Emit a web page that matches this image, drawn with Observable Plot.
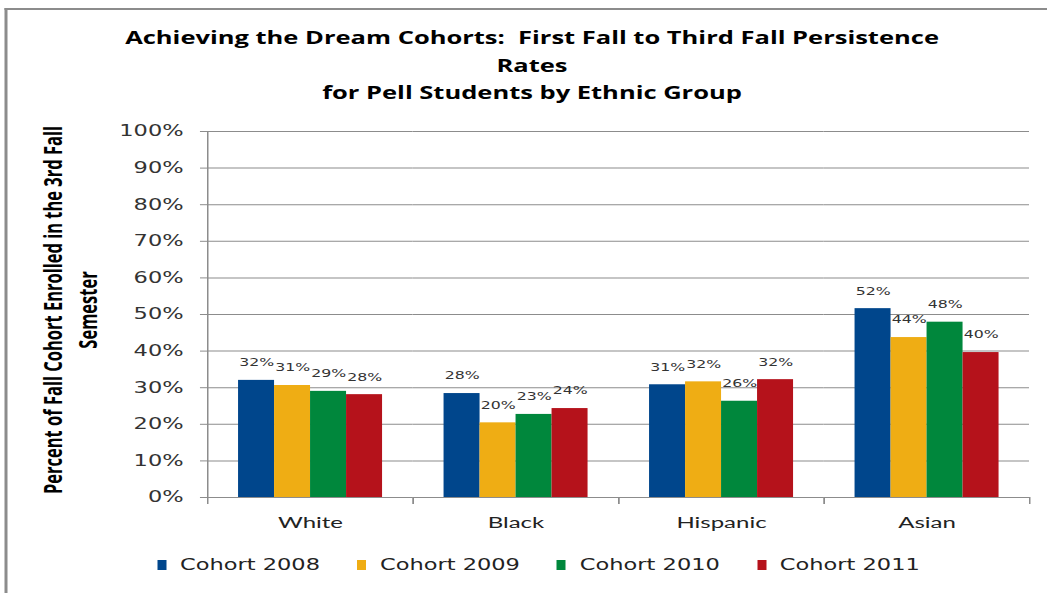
<!DOCTYPE html>
<html><head><meta charset="utf-8">
<script src="https://cdn.jsdelivr.net/npm/d3@7"></script>
<script src="https://cdn.jsdelivr.net/npm/@observablehq/plot@0.6"></script>
<style>
html,body{margin:0;padding:0;background:#fff;overflow:hidden;width:1047px;height:593px;}
#wrap{position:absolute;left:0;top:0;width:698px;height:593px;transform:scaleX(1.5);transform-origin:0 0;}
#border{position:absolute;left:3.3px;top:8px;right:0;bottom:-10px;border-top:2px solid #8c8c8c;border-left:2px solid #8c8c8c;}
#title{position:absolute;top:24px;left:0;width:709.4px;text-align:center;font-family:"Open Sans";font-weight:bold;font-size:17px;line-height:27.5px;color:#000;}
#chart{position:absolute;top:112px;left:0;}
#legend{position:absolute;top:555px;left:104.7px;height:20px;display:flex;align-items:center;font-family:"DejaVu Sans";font-size:15px;color:#222;}
.item{width:133.3px;display:flex;align-items:center;white-space:nowrap;}
.sw{width:6px;height:10px;margin-right:9.3px;flex:none;}
#chart svg{overflow:visible;}
g[aria-label="y-axis tick"]{stroke:#8c8c8c;}
g[aria-label="y-axis tick label"]{fill:#333;}
g[aria-label="fx-axis tick label"]{fill:#222;font-family:Lato;font-size:16px;}
</style>
</head><body>
<div id="wrap">
  <div id="border"></div>
  <div id="title">Achieving the Dream Cohorts:&nbsp; First Fall to Third Fall Persistence<br>Rates<br>for Pell Students by Ethnic Group</div>
  <div id="chart"></div>
  <div id="legend"></div>
</div>
<script>
const groups = ["White", "Black", "Hispanic", "Asian"];
const cohorts = ["Cohort 2008", "Cohort 2009", "Cohort 2010", "Cohort 2011"];
const cohort2008 = [0.320, 0.284, 0.308, 0.516];
const cohort2009 = [0.306, 0.204, 0.316, 0.437];
const cohort2010 = [0.290, 0.227, 0.263, 0.479];
const cohort2011 = [0.281, 0.243, 0.322, 0.396];
const colors = ["#00468c", "#efad14", "#00873c", "#b5121b"];
const yTicks = [0, 0.1, 0.2, 0.3, 0.4, 0.5, 0.6, 0.7, 0.8, 0.9, 1.0];
const yTitle = ["Percent of Fall Cohort Enrolled in the 3rd Fall", "Semester"];

const series = [cohort2008, cohort2009, cohort2010, cohort2011];
const data = [];
groups.forEach((g, i) => cohorts.forEach((c, j) => data.push({group: g, cohort: c, value: series[j][i]})));
const fmt = d3.format(".0%");

const W = 698, H = 433;
const mT = 19, mB = 48, mL = 138.3, mR = 11.7;
const plotH = H - mT - mB;

const svg = Plot.plot({
  width: W, height: H,
  marginTop: mT, marginBottom: mB, marginLeft: mL, marginRight: mR,
  style: {fontFamily: "DejaVu Sans", fontSize: "15px", color: "#8c8c8c", background: "transparent"},
  fx: {domain: groups, padding: 0, axis: "bottom", tickSize: 0, tickPadding: 19.3, label: null},
  x: {domain: cohorts, axis: null, paddingInner: 0, paddingOuter: 0.76},
  y: {domain: [0, 1], ticks: yTicks, tickFormat: fmt, tickSize: 4.7, tickPadding: 11.4, label: null, line: true},
  color: {domain: cohorts, range: colors},
  marks: [
    Plot.ruleY(yTicks, {stroke: "#8c8c8c"}),
    Plot.frame({anchor: "left", stroke: "#8c8c8c", insetTop: plotH, insetBottom: -6}),
    Plot.frame({anchor: "right", stroke: "#8c8c8c", insetTop: plotH, insetBottom: -6}),
    Plot.barY(data, {fx: "group", x: "cohort", y: "value", fill: "cohort", inset: 0}),
    Plot.text(data, {fx: "group", x: "cohort", y: "value", text: d => fmt(d.value), dy: -17.5,
      fill: "#333", fontFamily: "DejaVu Sans", fontSize: 10.5})
  ]
});
document.getElementById("chart").appendChild(svg);

// rotated y-axis title
const t = d3.select(svg).append("g").attr("aria-label", "y-axis title")
  .attr("font-family", "Open Sans").attr("font-weight", "bold").attr("font-size", 16.5).attr("fill", "#000");
const xs = [35.3, 58.7];
yTitle.forEach((s, i) => {
  t.append("text").attr("transform", `translate(${xs[i]},${310 - 112}) rotate(-90)`)
    .attr("text-anchor", "middle").attr("dominant-baseline", "central").text(s);
});

// legend
const lg = d3.select("#legend");
cohorts.forEach((c, i) => {
  const it = lg.append("div").attr("class", "item");
  it.append("div").attr("class", "sw").style("background", colors[i]);
  it.append("span").text(c);
});
</script>
</body></html>
